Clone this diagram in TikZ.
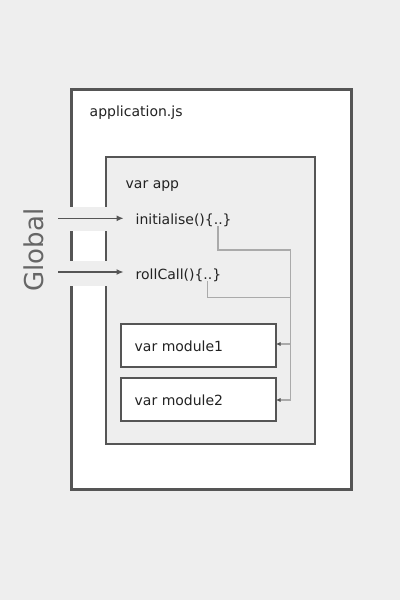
\documentclass[tikz,border=0pt]{standalone}
\usepackage{fontspec}
\setmainfont{DejaVu Sans}
\usetikzlibrary{arrows.meta}
\definecolor{bg}{HTML}{EEEEEE}
\definecolor{frame}{HTML}{555555}
\definecolor{conn}{HTML}{AAAAAA}
\definecolor{txt}{HTML}{222222}
\definecolor{glob}{HTML}{666666}
\begin{document}
\begin{tikzpicture}[x=1pt,y=-1pt,
  lbl/.style={anchor=base west,inner sep=0pt,text=txt,font=\fontsize{14}{16}\selectfont},
  outerbox/.style={draw=frame,line width=3pt,fill=white,outer sep=0pt},
  innerbox/.style={draw=frame,line width=2pt,fill=bg,outer sep=0pt},
  modbox/.style={draw=frame,line width=2pt,fill=white,anchor=north west,inner sep=0pt,outer sep=0pt},
  garrow/.style={draw=frame,line width=1.1pt,-{Latex[length=7pt,width=6pt]}},
  cline/.style={draw=conn,line width=1.6pt},
  carrow/.style={draw=conn,line width=1.6pt,-{Latex[length=5pt,width=4pt,color=frame]}}
]
\fill[bg] (0,0) rectangle (400,600);
\useasboundingbox (0,0) rectangle (400,600);
% boxes
\node[outerbox,minimum width=280pt,minimum height=400pt,anchor=north west,inner sep=0pt] (outer) at (71.7,89) {};
\node[innerbox,minimum width=209pt,minimum height=287pt,anchor=north west,inner sep=0pt] (inner) at (106,157) {};
% gaps where arrows enter
\fill[bg] (69,207) rectangle (108,231);
\fill[bg] (69,261) rectangle (108,286);
% module boxes
\node[modbox,minimum width=155pt,minimum height=43pt] (m1) at (120.5,324) {};
\node[modbox,minimum width=155pt,minimum height=42.5pt] (m2) at (120.5,378) {};
% labels
\node[lbl] (appjs) at (89.5,116) {application.js};
\node[lbl] (app) at (125.5,188) {var app};
\node[lbl] (init) at (135.5,224) {initialise()\{..\}};
\node[lbl] (roll) at (135.5,279) {rollCall()\{..\}};
\node[lbl] (t1) at (134.5,351) {var module1};
\node[lbl] (t2) at (134.5,405) {var module2};
\node[rotate=90,text=glob,font=\fontsize{26}{30}\selectfont,inner sep=0pt,anchor=base] (global) at (43,250) {Global};
% global arrows
\coordinate (g1) at (58,218.3);
\coordinate (g2) at (58,272);
\coordinate (e1) at (123.5,218.3);
\coordinate (e2) at (123.5,272);
\draw[garrow] (g1) -- (e1);
\draw[garrow] (g2) -- (e2);
% connectors
\coordinate (d1) at (218,225.5);
\coordinate (d2) at (207.5,281);
\coordinate (j1) at (290.5,250);
\coordinate (j2) at (290.5,297.5);
\coordinate (b1) at (290.5,344);
\coordinate (b2) at (290.5,400);
\draw[cline] (d1) |- (j1) -- (b2);
\draw[cline] (d2) |- (j2);
\draw[carrow] (b1) -- (m1.east |- b1);
\draw[carrow] (b2) -- (m2.east |- b2);
\end{tikzpicture}
\end{document}
